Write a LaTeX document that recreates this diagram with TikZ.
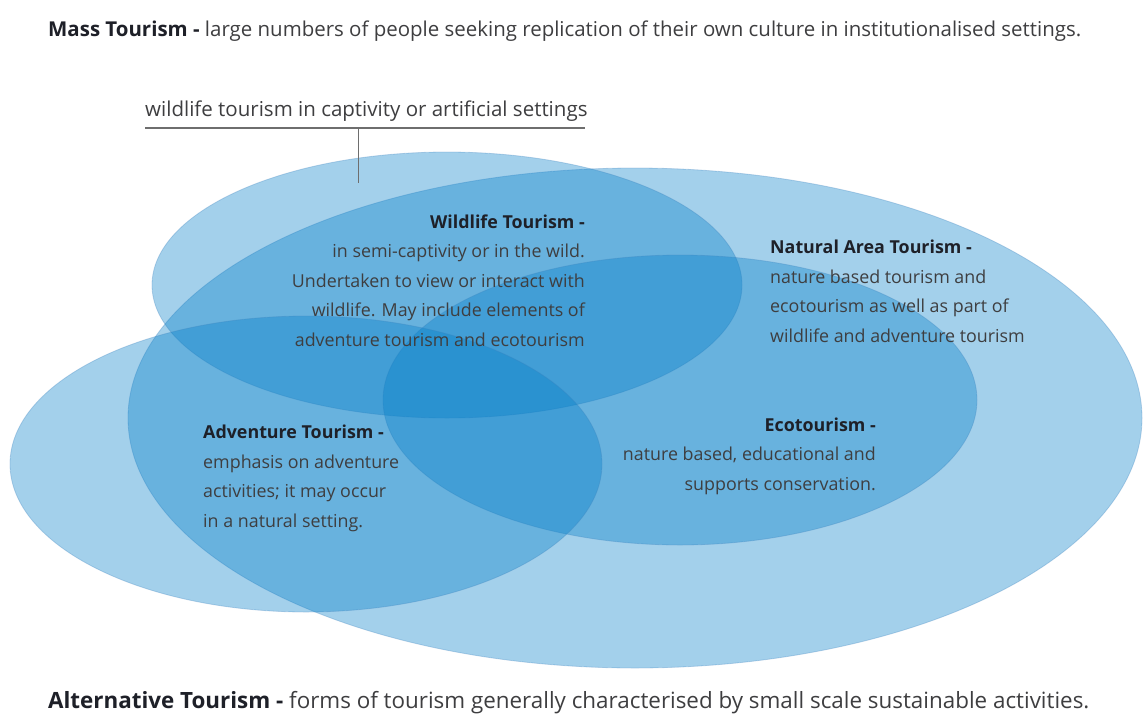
\documentclass[tikz,border=0pt]{standalone}
\usepackage{fontspec}
\setmainfont{Open Sans}
\usetikzlibrary{shapes.geometric}
\definecolor{layer}{RGB}{0,125,200}
\definecolor{rim}{RGB}{60,130,190}
\definecolor{headc}{RGB}{30,32,40}
\definecolor{bodyc}{RGB}{62,62,64}
\definecolor{rulec}{RGB}{110,110,110}
\begin{document}
\begin{tikzpicture}[x=1pt,y=-1pt,
  venn/.style={ellipse, fill=layer, fill opacity=0.36, draw=rim, draw opacity=0.3, line width=0.8pt, inner sep=0},
  caption/.style={anchor=base west, inner sep=0, text=bodyc},
  blocktext/.style={inner sep=0, text=bodyc, font=\fontsize{17.85}{29.5}\selectfont}
]
\useasboundingbox (0,0) rectangle (1143,715);
\fill[white] (0,0) rectangle (1143,715);

% ellipses
\node[venn, minimum width=1014pt, minimum height=500pt] (natural) at (635,418) {};
\node[venn, minimum width=590pt, minimum height=266pt] (wild) at (447,285) {};
\node[venn, minimum width=594pt, minimum height=290pt] (eco) at (680,400) {};
\node[venn, minimum width=592pt, minimum height=296pt] (adv) at (306,464) {};

% top and bottom captions
\node[caption, font=\fontsize{20.45}{23}\selectfont] (mass) at (48,36) {{\color{headc}\bfseries Mass Tourism -} large numbers of people seeking replication of their own culture in institutionalised settings.};
\node[caption, font=\fontsize{22.4}{25}\selectfont] (alt) at (48,708) {{\color{headc}\bfseries Alternative Tourism -} forms of tourism generally characterised by small scale sustainable activities.};

% captivity label
\node[caption, font=\fontsize{20.5}{23}\selectfont] (captlabel) at (145,116) {wildlife tourism in captivity or artificial settings};
\coordinate (ruleL) at (145,128);
\coordinate (ruleR) at (585,128);
\coordinate (ruleM) at (358,128);
\coordinate (captive) at (358,183);
\draw[rulec, line width=1.5pt] (ruleL) -- (ruleR);
\draw[rulec, line width=1pt] (ruleM) -- (captive);

% block texts
\node[blocktext, anchor=north east, align=right] (wildtext) at (585,214.4) {{\color{headc}\bfseries Wildlife Tourism -}\\ in semi-captivity or in the wild.\\ Undertaken to view or interact with\\ wildlife. May include elements of\\ adventure tourism and ecotourism};
\node[blocktext, anchor=north west, align=left] (nattext) at (770,240) {{\color{headc}\bfseries Natural Area Tourism -}\\ nature based tourism and\\ ecotourism as well as part of\\ wildlife and adventure tourism};
\node[blocktext, anchor=north west, align=left] (advtext) at (203,425) {{\color{headc}\bfseries Adventure Tourism -}\\ emphasis on adventure\\ activities; it may occur\\ in a natural setting.};
\node[blocktext, anchor=north east, align=right] (ecotext) at (876,417.5) {{\color{headc}\bfseries Ecotourism -}\\ nature based, educational and\\ supports conservation.};
\end{tikzpicture}
\end{document}
